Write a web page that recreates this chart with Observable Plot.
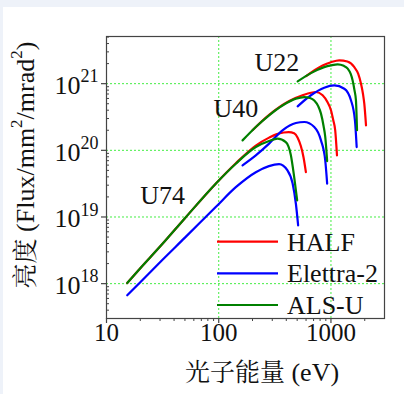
<!DOCTYPE html>
<html><head><meta charset="utf-8">
<script src="https://cdn.jsdelivr.net/npm/d3@7"></script>
<script src="https://cdn.jsdelivr.net/npm/@observablehq/plot@0.6"></script>
<style>
html,body{margin:0;padding:0;background:#eef2f9;overflow:hidden;}
#wrap{position:absolute;left:3px;top:7px;width:401px;height:387px;background:#fff;font-family:'Liberation Serif';}
#wrap svg{display:block;font-family:'Liberation Serif' !important;}
#wrap svg text, #wrap svg tspan, #wrap svg g{font-family:'Liberation Serif' !important;}
#wrap svg text.cjk, #wrap svg tspan.cjk{font-family:'Noto Serif CJK SC' !important;}
</style></head><body><div id="wrap"></div>
<script>
const sources = ["HALF", "Elettra-2", "ALS-U"];
const colors = ["#ff0000", "#0000ff", "#008000"];
const undulators = ["U74", "U40", "U22"];
const undLabelE = [31.6, 142, 330];
const undLabelB = [2.1e19, 4.27e20, 2.09e21];
const xTicks = [10, 100, 1000];
const xTickLabels = ["10", "100", "1000"];
const yTicks = [1e18, 1e19, 1e20, 1e21];
const yTickExponents = ["18", "19", "20", "21"];
const xTitleCJK = "光子能量";
const xTitleUnit = " (eV)";
const yTitleCJK = "亮度";

// photon energy (eV) and brightness, per source and undulator
const HALF_U74_E = [15.3, 20, 30, 50, 94, 142, 214, 281, 330, 380, 420, 470, 505, 540, 570, 598];
const HALF_U74_B = [1.02e18, 1.7e18, 3.6e18, 9.6e18, 3.16e19, 6.4e19, 1.18e20, 1.55e20, 1.75e20, 1.85e20, 1.88e20, 1.8e20, 1.55e20, 1.15e20, 7.8e19, 4.7e19];
const Elettra_U74_E = [15.3, 20, 30, 50, 94, 142, 214, 280, 345, 410, 455, 487, 510];
const Elettra_U74_B = [6.7e17, 1.05e18, 2.1e18, 4.9e18, 1.41e19, 2.8e19, 4.7e19, 5.8e19, 6.2e19, 5.0e19, 3.2e19, 1.58e19, 7.5e18];
const ALSU_U74_E = [15.3, 20, 30, 50, 94, 142, 214, 281, 334, 396, 439, 470, 500];
const ALSU_U74_B = [1.02e18, 1.7e18, 3.6e18, 9.6e18, 3.16e19, 6.3e19, 1.12e20, 1.38e20, 1.5e20, 1.33e20, 8.5e19, 4e19, 1.78e19];

const HALF_U40_E = [200, 281, 425, 558, 735, 843, 930, 1000, 1050, 1091, 1132];
const HALF_U40_B = [2.0e20, 3.4e20, 5.5e20, 6.7e20, 7.5e20, 6.7e20, 5.3e20, 4.0e20, 2.8e20, 2.0e20, 8.4e19];
const Elettra_U40_E = [163, 214, 281, 370, 487, 578, 710, 815, 889, 925];
const Elettra_U40_B = [5.96e19, 8.4e19, 1.26e20, 2.0e20, 2.57e20, 2.66e20, 2.24e20, 1.41e20, 7.1e19, 3.16e19];
const ALSU_U40_E = [163, 214, 281, 370, 487, 578, 650, 710, 770, 815, 860, 889, 925];
const ALSU_U40_B = [1.41e20, 2.24e20, 3.35e20, 4.7e20, 5.96e20, 6.3e20, 6.1e20, 5.6e20, 4.6e20, 3.55e20, 2.3e20, 1.6e20, 6.9e19];

const HALF_U22_E = [600, 843, 1000, 1186, 1400, 1615, 1750, 1853, 1930, 1982, 2053];
const HALF_U22_B = [1.3e21, 1.88e21, 2.1e21, 2.24e21, 2.15e21, 1.77e21, 1.4e21, 1.0e21, 7e20, 5e20, 2.37e20];
const Elettra_U22_E = [505, 663, 871, 1070, 1315, 1510, 1637, 1695];
const Elettra_U22_B = [4.57e20, 6.7e20, 8.7e20, 9.4e20, 8.4e20, 5.6e20, 2.8e20, 1.12e20];
const ALSU_U22_E = [505, 663, 871, 1000, 1148, 1300, 1410, 1500, 1560, 1620, 1670, 1707];
const ALSU_U22_B = [1.08e21, 1.44e21, 1.77e21, 1.88e21, 1.95e21, 1.85e21, 1.68e21, 1.4e21, 1.12e21, 8e20, 5.6e20, 2e20];

const curves = [
  ["HALF", "U74", HALF_U74_E, HALF_U74_B], ["HALF", "U40", HALF_U40_E, HALF_U40_B], ["HALF", "U22", HALF_U22_E, HALF_U22_B],
  ["Elettra-2", "U74", Elettra_U74_E, Elettra_U74_B], ["Elettra-2", "U40", Elettra_U40_E, Elettra_U40_B], ["Elettra-2", "U22", Elettra_U22_E, Elettra_U22_B],
  ["ALS-U", "U74", ALSU_U74_E, ALSU_U74_B], ["ALS-U", "U40", ALSU_U40_E, ALSU_U40_B], ["ALS-U", "U22", ALSU_U22_E, ALSU_U22_B]
];
const rows = curves.flatMap(([source, und, E, B]) => E.map((e, i) => ({source, und, E: e, B: B[i]})));

const xMinor = [];
for (const d of [10, 100, 1000]) for (let k = 2; k <= 9; k++) if (d * k < 3000) xMinor.push(d * k);
const yMinor = [];
for (const d of [1e17, 1e18, 1e19, 1e20, 1e21]) for (let k = 2; k <= 9; k++) { const v = d * k; if (v > 3e17 && v < 5.1e21) yMinor.push(v); }

const latin = "Liberation Serif";
const cjk = "Noto Serif CJK SC";
const gridStyle = {stroke: "#44ee44", strokeOpacity: 1, strokeWidth: 1, strokeDasharray: "2,2"};
const txt = {fontFamily: latin, fill: "#111"};

function yTitleMark(index, scales, values, dims) {
  const cx = dims.marginLeft - 78;
  const cy = dims.marginTop + (dims.height - dims.marginTop - dims.marginBottom) / 2 - 12;
  const t = d3.create("svg:text")
    .attr("transform", `translate(${cx},${cy}) rotate(-90)`)
    .attr("text-anchor", "middle").attr("dominant-baseline", "middle")
    .attr("font-size", 26).attr("fill", "#111").style("font-family", latin);
  t.append("tspan").attr("class", "cjk").style("font-family", cjk).attr("font-size", 25).text(yTitleCJK);
  t.append("tspan").text(" (Flux/mm");
  t.append("tspan").attr("font-size", 17).attr("dy", -10).text("2");
  t.append("tspan").attr("dy", 10).text("/mrad");
  t.append("tspan").attr("font-size", 17).attr("dy", -10).text("2");
  t.append("tspan").attr("dy", 10).text(")");
  return t.node();
}

function xTitleMark(index, scales, values, dims) {
  const cx = dims.marginLeft + (dims.width - dims.marginLeft - dims.marginRight) / 2 + 17;
  const cy = dims.height - dims.marginBottom + 54;
  const t = d3.create("svg:text")
    .attr("x", cx).attr("y", cy).attr("dy", "0.35em")
    .attr("text-anchor", "middle")
    .attr("font-size", 26).attr("fill", "#111").style("font-family", latin);
  t.append("tspan").attr("class", "cjk").style("font-family", cjk).attr("font-size", 25).text(xTitleCJK);
  t.append("tspan").text(xTitleUnit);
  return t.node();
}

function legendMark(index, scales, values, dims) {
  const right = dims.width - dims.marginRight;
  const bottom = dims.height - dims.marginBottom;
  const g = d3.create("svg:g");
  sources.forEach((s, i) => {
    const y = bottom - 76.3 + i * 31.65;
    g.append("line").attr("x1", right - 167).attr("x2", right - 106).attr("y1", y).attr("y2", y)
      .attr("stroke", colors[i]).attr("stroke-width", 2.2);
    g.append("text").attr("x", right - 97).attr("y", y).attr("dy", "0.35em")
      .attr("text-anchor", "start").style("font-family", latin)
      .attr("font-size", 26).attr("fill", "#111").text(s);
  });
  return g.node();
}

const chart = Plot.plot({
  width: 401, height: 387,
  marginLeft: 103, marginRight: 20, marginTop: 29, marginBottom: 76,
  x: {type: "log", domain: [10, 3000]},
  y: {type: "log", domain: [3e17, 5.1e21]},
  style: {fontFamily: latin, background: "transparent", overflow: "visible", color: "#111"},
  marks: [
    Plot.gridX(xTicks.slice(1), gridStyle),
    Plot.gridY(yTicks, gridStyle),
    ...sources.map((s, i) => Plot.line(rows.filter(r => r.source === s), {
      x: "E", y: "B", z: "und", stroke: colors[i], strokeWidth: 2.2, curve: "monotone-x"
    })),
    Plot.frame({stroke: "#444", strokeWidth: 1.2}),
    Plot.axisX({ticks: xTicks, tickSize: 5, tickFormat: () => "", label: null, stroke: "#444", strokeWidth: 1.2}),
    Plot.axisX({ticks: xMinor, tickSize: 3, tickFormat: () => "", label: null, stroke: "#444"}),
    Plot.axisY({ticks: yTicks, tickSize: 5, tickFormat: () => "", label: null, stroke: "#444", strokeWidth: 1.2}),
    Plot.axisY({ticks: yMinor, tickSize: -3, tickFormat: () => "", label: null, stroke: "#444"}),
    Plot.text(xTicks, {...txt, x: d => d, frameAnchor: "bottom", text: (d, i) => xTickLabels[i], dy: 22, fontSize: 25}),
    Plot.text(yTicks, {...txt, y: d => d, frameAnchor: "left", text: () => "10", textAnchor: "end", dx: -26, dy: 2, fontSize: 26}),
    Plot.text(yTicks, {...txt, y: d => d, frameAnchor: "left", text: (d, i) => yTickExponents[i], textAnchor: "start", dx: -26, dy: -7, fontSize: 18}),
    Plot.text(undulators, {...txt, x: (d, i) => undLabelE[i], y: (d, i) => undLabelB[i], text: d => d, fontSize: 26}),
    xTitleMark,
    yTitleMark,
    legendMark
  ]
});
document.getElementById("wrap").appendChild(chart);
</script>
</body></html>
